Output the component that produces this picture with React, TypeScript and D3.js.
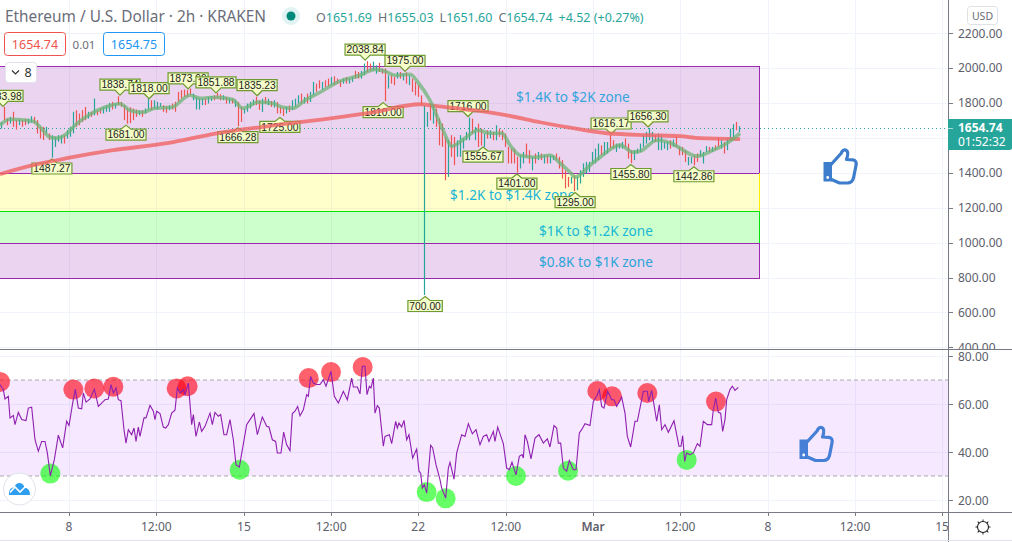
import React from "react";
import * as d3 from "d3";

const candleHigh = [
1691,1777,1710,1720,1749,1701,1705,1701,1710,1710,1724,1720,1701,1663,1663,1663,1625,1615,1606,1615,
1615,1615,1644,1663,1749,1758,1739,1758,1777,1749,1749,1825,1758,1768,1777,1787,1800,1806,1796,1838,
1806,1787,1768,1775,1768,1762,1758,1758,1768,1825,1815,1815,1806,1800,1787,1781,1787,1796,1806,1863,
1873,1876,1873,1882,1853,1834,1825,1825,1825,1834,1838,1844,1857,1849,1844,1834,1825,1825,1819,1806,
1777,1768,1796,1806,1819,1835,1815,1824,1834,1824,1811,1815,1805,1777,1767,1777,1786,1815,1824,1843,
1853,1834,1853,1863,1920,1910,1929,1920,1929,1939,1948,1952,1939,1929,1939,1948,1939,1948,1983,1977,
1983,2025,2039,2025,2036,2015,2029,1996,1996,1958,1958,1948,1977,1977,1967,1975,1958,1939,1920,1901,
1843,1786,1748,1796,1786,1767,1710,1681,1605,1586,1615,1605,1586,1615,1596,1634,1716,1710,1662,1681,
1653,1624,1643,1643,1634,1672,1653,1643,1624,1548,1538,1538,1491,1500,1519,1567,1529,1491,1510,1519,
1510,1500,1500,1500,1500,1510,1491,1472,1414,1376,1376,1386,1376,1414,1453,1462,1462,1519,1538,1567,
1557,1576,1576,1616,1586,1567,1567,1576,1596,1567,1529,1529,1538,1567,1615,1634,1656,1634,1615,1624,
1615,1577,1577,1586,1590,1605,1548,1548,1529,1491,1491,1500,1510,1529,1519,1552,1548,1548,1557,1601,
1586,1577,1596,1653,1678,1691,1666];

const candleLow = [
1653,1701,1672,1682,1663,1647,1672,1663,1672,1678,1686,1682,1625,1596,1587,1625,1587,1487,1548,1577,
1567,1567,1596,1606,1625,1663,1672,1691,1701,1710,1720,1729,1729,1739,1739,1749,1749,1762,1768,1787,
1777,1701,1681,1684,1701,1720,1729,1720,1739,1762,1758,1768,1762,1777,1749,1743,1758,1762,1749,1806,
1825,1834,1834,1844,1815,1762,1762,1787,1787,1796,1811,1815,1825,1815,1815,1796,1796,1796,1777,1666,
1691,1739,1749,1768,1787,1787,1760,1748,1796,1786,1777,1773,1739,1739,1725,1739,1748,1758,1777,1796,
1796,1796,1796,1805,1843,1863,1882,1876,1891,1895,1901,1901,1910,1891,1910,1910,1910,1920,1939,1939,
1939,1958,1977,1987,1987,1967,1977,1967,1810,1882,1910,1901,1939,1939,1929,1910,1901,1863,1843,1834,
1786,700,1662,1700,1681,1662,1557,1548,1357,1376,1491,1443,1491,1491,1538,1586,1586,1624,1586,1548,
1556,1548,1596,1596,1586,1586,1605,1586,1548,1453,1453,1453,1401,1424,1453,1491,1453,1414,1453,1472,
1472,1453,1453,1453,1472,1472,1424,1367,1310,1319,1338,1295,1300,1338,1376,1395,1405,1453,1453,1472,
1500,1500,1510,1538,1538,1519,1538,1538,1548,1481,1456,1472,1510,1519,1548,1567,1586,1576,1576,1529,
1529,1538,1529,1538,1548,1548,1500,1500,1462,1443,1453,1443,1462,1491,1453,1519,1519,1519,1529,1548,
1538,1510,1529,1586,1605,1643,1634];

const candleDirection = [
  "uddudduddu","udddduduuu","uduuuddddu","dudduuudud","dddddduduu",
  "duuudduddd","dddduuuudu","udddududud","duuuuddudu","duddduduuu",
  "duduuddudd","uddduduudd","uudduudddu","ddudududdd","duududdddu",
  "dduuuuudud","dudududddd","ddduuddudu","duduuddddd","uduuuuuuuu",
  "duudduuudd","duuuuuuudu","uuududdddu","udduuududd","uduuudu",
].join("");

const fastBars = [0,3.3,11,14,16.7,19,22,25,30,35,40,43.3,47.3,51.7,57.3,63.3,66.7,71.7,77.3,81,86,90.7,94.3,97.7,101.7,106.7,113.3,120,125,128.3,131.7,136.7,139.3,143.3,147.7,150.7,155,159.3,163.3,167.3,170,173.3,178.3,183.3,186.7,190,191.7,196.7,200,206.7,211,213.3,219,225,226.7,232.3,237.7,242.3,246.7];
const fastPrices = [1672,1706,1695,1649,1603,1598,1620,1672,1735,1775,1795,1758,1746,1769,1775,1844,1826,1832,1821,1769,1804,1798,1775,1769,1815,1861,1924,1958,1992,1981,1958,1964,1918,1815,1643,1552,1598,1643,1626,1626,1558,1500,1489,1500,1455,1403,1375,1443,1489,1558,1518,1523,1586,1558,1540,1495,1529,1569,1626];

const slowBars = [0,11,22.3,37.7,55.7,72.3,89,113.3,124.3,140,145.7,157.7,169,180,191,202.3,216.7,226.7,233.3,246.7];
const slowPrices = [1392,1443,1483,1529,1569,1626,1666,1718,1746,1792,1781,1758,1729,1689,1655,1626,1615,1609,1598,1592];

const labelTexts = ["1783.98","1487.27","1838.74","1681.00","1818.00","1873.99","1851.88","1666.28","1835.23","1725.00","2038.84","1810.00","1975.00","700.00","1716.00","1555.67","1401.00","1295.00","1616.17","1656.30","1455.80","1442.86"];
const labelBars = [1,17.3,40,42,49.7,62.7,72,79.3,85.7,93.3,121.7,127.7,135,141.7,156,161,172.3,191.7,203.7,216,210.3,231.3];
const labelPrices = [1773.98,1487.27,1838.74,1681,1818,1873.99,1851.88,1666.28,1835.23,1725,2038.84,1810,1975,700,1716,1555.67,1401,1295,1616.17,1656.3,1455.8,1442.86];
const labelSides = ["h","l","h","l","h","h","h","l","h","l","h","l","h","l","h","l","l","l","h","h","l","l"];

const zoneTops = [2010,1400,1180,1000];
const zoneBottoms = [1400,1180,1000,800];
const zoneFills = ["rgba(156,39,176,0.2)","rgba(255,255,0,0.2)","rgba(0,255,0,0.2)","rgba(156,39,176,0.2)"];
const zoneStrokes = ["#9c27b0","#ffee00","#00e600","#9c27b0"];
const zoneEndBar = 253;

const zoneNoteTexts = ["$1.4K to $2K zone","$1.2K to $1.4K zone","$1K to $1.2K zone","$0.8K to $1K zone"];
const zoneNoteBars = [172,150,179.7,179.7];
const zoneNotePrices = [1835,1270,1065,890];
const zoneNoteColors = ["#36a5dd","#18b4d8","#1ab6d6","#2ba4d8"];

const priceTicks = [2200,2000,1800,1600,1400,1200,1000,800,600,400];
const priceTicksHiddenByTag = [1600];
const rsiTickValues = [80,60,40,20];
const timeTickBars = [23,52.1,81.3,110.4,139.4,168.6,197.7,226.7,256,285,314];
const timeTickLabels = ["8","12:00","15","12:00","22","12:00","Mar","12:00","8","12:00","15"];

const rsiSteps = [0,10,15,25,30,40,45,55,65,78,85,95,105,115,125,135,142,151,163,175,188,200,207,218,226,235,245,250,258,270,283,295,305,315,325,333,340,348,355,363,372,378,385,395,402,408,415,420,432,438,450,460,465,470,480,490,497,505,515,525,532,540,550,555,565,575,580,588,598,605,615,630,637,645,655,662,672,680,690,700,708,718,728,740,750,762,772,787,800,807,817,827,832,843,851,860,870,877,885,893,900,910,920,925,932,940,950,960,970,978,993,1003,1015,
1030,1042,1055,1060,1072,1080,1087,1095,1101,1108,1113,1120,1125,1132,1138,1150,1155,1168,1175,1187,1192,1197,1205,1212,1220,1227,1238,1250,1257,1262,1267,1273,1280,1292,1298,1308,1320,1325,1337,1345,1350,1362,1370,1385,1395,1405,1417,1428,1440,1450,1460,1467,1480,1485,1493,1510,1520,1528,1536,1548,1558,1566,1570,1575,1582,1593,1605,1617,1630,1642,1650,1662,1670,1675,1682,1690,1700,1708,1720,1728,1738,1745,1755,1770,1780,1790,1798,1805,1812,1823,1835,1842,1850,1865,1875,1882,1892,1905,1912,1930,1942,1946,1955,1970,1978,1985,1995,2005,2022,2037,2043,2048,2054,2060,2070,2080,2092,2100,2110,2122,2135,2140,2147,2155,2162,2168,2175,2180,2190,2197,2205,2215];
const rsiValues = [68.1,66,62.1,63.2,54.2,55.2,51.4,56.5,53.5,53.1,58.3,58.7,45.1,40.3,44.4,44.4,39.6,30.1,36.8,47,41.7,52.8,51,60.4,66.2,58.3,58,64.6,60.8,62.1,66.2,59,60.4,61.8,62.1,68.1,64.6,66.7,61.8,61.4,49.3,43.7,49.3,47.2,50,44.4,50.4,46.5,54.2,54.2,59.4,57,53.5,57,56,50.4,50,51.4,56.2,57.4,66.7,64.6,66,63.9,68.7,51.4,55.6,46.5,52.5,48.6,50.7,56.2,51.4,56.5,54.9,55.6,47.2,47.2,53.5,45.1,34.7,33.7,41.7,51.4,53.5,56,47.2,54.6,50.7,50.4,45.1,44.4,39.6,39.6,48.3,43,40.6,56,57,59,55.1,57.6,63.9,63.2,71.5,68.7,68.1,68.1,70.1,67.4,73.6,63.2,60.4,
65.3,61.8,70.8,67.1,67.1,64.2,75.7,75.7,63.9,67.4,66.7,70.8,56.2,59.3,58.3,42.4,46.5,47.2,43.5,52.8,50,52.1,50.4,53.2,45.1,47.2,37.5,41.2,32,31.2,25,26.4,22.9,42.8,41.7,34.7,28.5,25,20.8,33.3,35.7,28.7,39.6,47.2,46.5,51.8,47.6,49.3,43,46.5,47.2,44.4,48.6,44.4,50.4,43.5,33.3,32.6,35.7,30.5,38.2,38.9,37.5,47.2,44.4,37.1,45.8,47.2,43.7,45.5,42.1,51,50,43.7,43.7,33.3,32,36.5,32.6,32.6,47.9,49.3,51.8,51,61.1,63.2,66,59,58.3,65.3,61.8,61.8,59,62.9,56.2,46.5,42.1,52.8,52.8,65.3,65.3,61.1,65.7,52.8,59.7,49.3,51.4,48.2,53,42.4,42.4,46.8,36.1,39.6,38.9,39.6,43.5,42.4,52.8,51.4,51.4,57.6,62.5,56.5,56.2,48.6,53.5,61.8,66,67.4,65.7,66.9];

const redDotSteps = [0,220,283,340,530,563,926,993,1088,1792,1836,1942,2148];
const redDotValues = [69.2,66,66.5,67.2,66.5,67.4,70.8,73.3,75.4,65.4,63.2,64.6,61];
const greenDotSteps = [151,719,1280,1337,1548,1704,2060];
const greenDotValues = [31,32.6,23.3,20.7,30,32.2,36.7];

const lastPrice = 1654.74;
const sans = "'Noto Sans', sans-serif";

const xScale = d3.scaleLinear().domain([0, 1012 / 3]).range([0, 1012]);
const stepX = (s: number) => xScale(s / 9);
const yScale = d3.scaleLinear().domain([2200, 400]).range([33, 347.4]);
const rsiScale = d3.scaleLinear().domain([80, 20]).range([356, 500]);

const fastLine = d3.line<number>().x((_, i) => xScale(fastBars[i])).y((d) => yScale(d)).curve(d3.curveMonotoneX);
const slowLine = d3.line<number>().x((_, i) => xScale(slowBars[i])).y((d) => yScale(d)).curve(d3.curveMonotoneX);
const rsiLine = d3.line<number>().x((_, i) => stepX(rsiSteps[i])).y((d) => rsiScale(d));

const UP = "#26a69a";
const DOWN = "#ef5350";
const AXIS = "#787b86";
const GRID = "#f0f3fa";
const LABEL = "#5d606b";

function Thumb({ x, y, color }: { x: number; y: number; color: string }) {
  return (
    <g transform={`translate(${x},${y})`}>
      <path d="M0,14 H8.5 V33.5 H0 Z" fill={color} />
      <circle cx={4.2} cy={29.5} r={1.4} fill="#fff" />
      <path
        d="M8,16 L17.5,5.5 C19,2 21,1.2 22.8,2.4 C25,3.8 24.6,7 23,11.5 L29.5,11.8 C32.5,12.2 33.2,15 32.4,18 L30,30 C29,33.5 27,35 24,35 L16,35 L8,31.5"
        fill="none"
        stroke={color}
        strokeWidth={3.2}
        strokeLinejoin="round"
        strokeLinecap="round"
      />
    </g>
  );
}

function PriceLabel({ bar, price, text, side }: { bar: number; price: number; text: string; side: string }) {
  const x = xScale(bar);
  const high = side === "h";
  const tip = yScale(price) + (high ? -1 : 1.5);
  const w = text.length * 5.65 + 0.5;
  const dir = high ? -1 : 1;
  const near = tip + dir * (high ? 5 : 4);
  const far = near + dir * 11;
  const l = x - w / 2;
  const r = x + w / 2;
  const d = `M${x},${tip} L${x + 5},${near} H${r} V${far} H${l} V${near} H${x - 5} Z`;
  return (
    <g>
      <path d={d} fill="#f5fdc9" stroke="#6f9a32" strokeWidth={1.2} />
      <text x={x} y={(near + far) / 2 + 3.6} textAnchor="middle" fontFamily="'Liberation Sans', sans-serif" fontSize={10.3} fill="#1c1c1c">
        {text}
      </text>
    </g>
  );
}

export default function App() {
  const lastY = Math.round(yScale(lastPrice)) + 0.5;
  return (
    <svg width={1012} height={542} viewBox="0 0 1012 542" style={{ position: "absolute", left: 0, top: 0, display: "block", background: "#fff" }}>
      <defs>
        <clipPath id="pricePane"><rect x={0} y={0} width={1012} height={349} /></clipPath>
        <clipPath id="plotArea"><rect x={0} y={0} width={948} height={542} /></clipPath>
      </defs>

      {/* grid */}
      {priceTicks.map((t) => (
        <line key={t} x1={0} x2={948} y1={Math.round(yScale(t)) + 0.5} y2={Math.round(yScale(t)) + 0.5} stroke={GRID} />
      ))}
      {rsiTickValues.map((t) => (
        <line key={t} x1={0} x2={948} y1={Math.round(rsiScale(t)) + 0.5} y2={Math.round(rsiScale(t)) + 0.5} stroke={GRID} />
      ))}
      {timeTickBars.map((b, i) => (
        <line key={i} x1={Math.round(xScale(b)) + 0.5} x2={Math.round(xScale(b)) + 0.5} y1={0} y2={512} stroke={GRID} />
      ))}

      {/* zones */}
      {zoneTops.map((t, i) => (
        <rect
          key={i}
          x={-2}
          width={xScale(zoneEndBar) + 2.5}
          y={Math.round(yScale(t)) + 0.5}
          height={Math.round(yScale(zoneBottoms[i])) - Math.round(yScale(t))}
          fill={zoneFills[i]}
          stroke={zoneStrokes[i]}
          strokeWidth={1}
        />
      ))}
      <line x1={0} x2={xScale(zoneEndBar)} y1={Math.round(yScale(zoneBottoms[0])) + 0.5} y2={Math.round(yScale(zoneBottoms[0])) + 0.5} stroke="#9c27b0" />

      {/* current price line */}
      <line x1={0} x2={948} y1={lastY} y2={lastY} stroke={UP} strokeDasharray="1 3" />

      {/* candles */}
      {candleHigh.map((h, i) => {
        const x = Math.round(xScale(i + 1 / 3)) + 0.5;
        return (
          <line key={i} x1={x} x2={x} y1={yScale(h)} y2={yScale(candleLow[i])} stroke={candleDirection[i] === "u" ? UP : DOWN} strokeWidth={1.2} />
        );
      })}

      {/* zone notes */}
      {zoneNoteTexts.map((t, i) => (
        <text key={t} x={xScale(zoneNoteBars[i])} y={yScale(zoneNotePrices[i]) + 5} fontFamily={sans} fontSize={13.6} fill={zoneNoteColors[i]}>
          {t}
        </text>
      ))}

      {/* high / low labels */}
      {labelTexts.map((t, i) => (
        <PriceLabel key={t} bar={labelBars[i]} price={labelPrices[i]} text={t} side={labelSides[i]} />
      ))}

      {/* moving averages */}
      <path d={slowLine(slowPrices) ?? ""} fill="none" stroke="rgb(240,100,100)" strokeOpacity={0.8} strokeWidth={3.8} />
      <path d={fastLine(fastPrices) ?? ""} fill="none" stroke="#68b373" strokeOpacity={0.72} strokeWidth={3.6} />

      <Thumb x={823.5} y={148} color="#3d7dcb" />

      {/* RSI pane */}
      <rect x={0} y={rsiScale(70)} width={948} height={rsiScale(30) - rsiScale(70)} fill="rgba(156,39,255,0.105)" />
      <line x1={0} x2={948} y1={rsiScale(70)} y2={rsiScale(70)} stroke="#aaaaaa" strokeDasharray="4 3" />
      <line x1={0} x2={948} y1={rsiScale(30)} y2={rsiScale(30)} stroke="#aaaaaa" strokeDasharray="4 3" />
      {greenDotSteps.map((s, i) => (
        <circle key={s} cx={stepX(s)} cy={rsiScale(greenDotValues[i])} r={10} fill="rgba(0,255,0,0.6)" />
      ))}
      {redDotSteps.map((s, i) => (
        <circle key={s} cx={stepX(s)} cy={rsiScale(redDotValues[i])} r={10} fill="rgba(255,0,20,0.62)" />
      ))}
      <path d={rsiLine(rsiValues) ?? ""} fill="none" stroke="#8f1fb0" strokeWidth={1.1} />
      <Thumb x={799.5} y={425.5} color="#457fd6" />

      {/* logo */}
      <circle cx={19.5} cy={489} r={16} fill="#fff" stroke="#e0e3eb" />
      <path d="M9,495 C8.5,490 11,487.5 14,487.5 C15.5,484 18,482.6 20,483 C22.5,483.4 24,485.5 25,488 C28,488 30,490.5 30,495 Z" fill="#2e9ef0" />
      <path d="M10,492.5 L15,487 L20,492 L25.5,486.5" fill="none" stroke="#fff" strokeWidth={1.6} />

      {/* header */}
      <text x={5} y={22} fontFamily={sans} fontSize={15.4} fill="#6a6d78">Ethereum / U.S. Dollar · 2h · KRAKEN</text>
      <circle cx={291} cy={16} r={9} fill="#e0f2f1" />
      <circle cx={291} cy={16} r={4.5} fill="#00897b" />
      <text x={316} y={22} fontFamily={sans} fontSize={12.5} fill={UP}>
        <tspan fill="#6a6d78">O</tspan>1651.69
        <tspan dx={6} fill="#6a6d78">H</tspan>1655.03
        <tspan dx={6} fill="#6a6d78">L</tspan>1651.60
        <tspan dx={6} fill="#6a6d78">C</tspan>1654.74
        <tspan dx={6}>+4.52 (+0.27%)</tspan>
      </text>
      <rect x={4.5} y={32.5} width={61} height={23} rx={3} fill="#fff" stroke="#ef5350" />
      <text x={35} y={49} textAnchor="middle" fontFamily={sans} fontSize={12.5} fill="#ef5350">1654.74</text>
      <text x={84} y={49} textAnchor="middle" fontFamily={sans} fontSize={11.5} fill="#6a6d78">0.01</text>
      <rect x={103.5} y={32.5} width={61} height={23} rx={3} fill="#fff" stroke="#2196f3" />
      <text x={134} y={49} textAnchor="middle" fontFamily={sans} fontSize={12.5} fill="#2196f3">1654.75</text>
      <rect x={5.5} y={62.5} width={31} height={20} rx={3} fill="#fff" stroke="#e0e3eb" />
      <path d="M12,70.5 L15.5,74 L19,70.5" fill="none" stroke="#333" strokeWidth={1.2} />
      <text x={28} y={77} textAnchor="middle" fontFamily={sans} fontSize={12.5} fill="#333">8</text>

      {/* axes */}
      <line x1={948.5} x2={948.5} y1={0} y2={542} stroke={AXIS} />
      <line x1={0} x2={1012} y1={349.5} y2={349.5} stroke={AXIS} />
      <line x1={0} x2={1012} y1={512.5} y2={512.5} stroke={AXIS} />
      <line x1={0} x2={1012} y1={540.5} y2={540.5} stroke="#e0e3eb" />
      <g clipPath="url(#pricePane)">
        {priceTicks.filter((t) => !priceTicksHiddenByTag.includes(t)).map((t) => (
          <g key={t}>
            <line x1={948} x2={953} y1={Math.round(yScale(t)) + 0.5} y2={Math.round(yScale(t)) + 0.5} stroke={AXIS} />
            <text x={958} y={yScale(t) + 4.5} fontFamily={sans} fontSize={12} fill={LABEL}>{d3.format(".2f")(t)}</text>
          </g>
        ))}
      </g>
      {rsiTickValues.map((t) => (
        <g key={t}>
          <line x1={948} x2={953} y1={Math.round(rsiScale(t)) + 0.5} y2={Math.round(rsiScale(t)) + 0.5} stroke={AXIS} />
          <text x={958} y={rsiScale(t) + 4.5} fontFamily={sans} fontSize={12} fill={LABEL}>{d3.format(".2f")(t)}</text>
        </g>
      ))}
      <g clipPath="url(#plotArea)">
        {timeTickBars.map((b, i) => (
          <g key={i}>
            <line x1={Math.round(xScale(b)) + 0.5} x2={Math.round(xScale(b)) + 0.5} y1={512} y2={516} stroke={AXIS} />
            <text x={xScale(b)} y={531} textAnchor="middle" fontFamily={sans} fontSize={12} fontWeight={timeTickLabels[i] === "Mar" ? 600 : 400} fill={LABEL}>
              {timeTickLabels[i]}
            </text>
          </g>
        ))}
      </g>

      {/* last price tag */}
      <path d="M948,119 H1012 V148 Q1012,150 1008,150 H948 Z" fill={UP} />
      <line x1={948} x2={953} y1={lastY} y2={lastY} stroke="#fff" strokeOpacity={0.6} />
      <text x={958} y={132} fontFamily={sans} fontSize={12} fontWeight={700} fill="#fff">1654.74</text>
      <text x={958} y={146} fontFamily={sans} fontSize={12} fill="#fff">01:52:32</text>

      {/* USD and settings */}
      <rect x={967.5} y={6.5} width={30} height={18} rx={3} fill="#fff" stroke="#dfe1e6" />
      <text x={982.5} y={19.5} textAnchor="middle" fontFamily={sans} fontSize={10.5} fill="#6a6d78">USD</text>
      <circle cx={983} cy={527} r={5.5} fill="none" stroke="#222" strokeWidth={1.1} />
      {[0, 45, 90, 135, 180, 225, 270, 315].map((a) => (
        <line key={a} x1={983} x2={983} y1={519.5} y2={521.5} stroke="#222" strokeWidth={1} transform={`rotate(${a} 983 527)`} />
      ))}
    </svg>
  );
}
